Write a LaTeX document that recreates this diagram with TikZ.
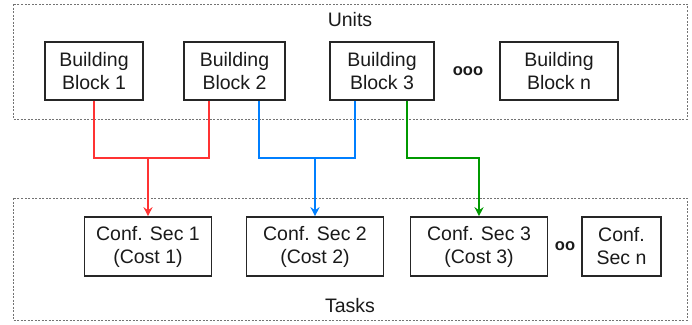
\documentclass[tikz,border=0pt]{standalone}
\usepackage{fontspec}
\setmainfont{Liberation Sans}
\usetikzlibrary{arrows.meta,calc}
\definecolor{cred}{HTML}{FF3333}
\definecolor{cblue}{HTML}{007FFF}
\definecolor{cgreen}{HTML}{009900}
\definecolor{ctext}{HTML}{1A1A1A}
\tikzset{
  blockbox/.style={draw=black!85, line width=1.6pt, minimum height=58pt, align=center,
    inner sep=0pt, text=ctext, font=\fontsize{19.5}{23}\selectfont},
  groupbox/.style={draw=black!55, dashed, dash pattern=on 2pt off 1.5pt, line width=0.7pt},
  lbl/.style={text=ctext, font=\fontsize{19.5}{23}\selectfont, inner sep=0pt},
  dotslbl/.style={text=ctext, font=\fontsize{16.5}{20}\selectfont\bfseries, inner sep=0pt},
  conn/.style={line width=1.8pt},
  tip/.style={-{Stealth[length=9pt,width=9pt,inset=3pt]}}
}
\begin{document}
\begin{tikzpicture}[x=1pt,y=-1pt]
\useasboundingbox (0,0) rectangle (692,324);
% group boxes
\draw[groupbox] (13,4) rectangle (687,119);
\draw[groupbox] (13,198) rectangle (687,320);
\node[lbl] (units) at (350,20) {Units};
\node[lbl] (tasks) at (350,306) {Tasks};
% building blocks
\node[blockbox, minimum width=98pt] (bb1) at (94,71) {Building\\Block 1};
\node[blockbox, minimum width=101pt] (bb2) at (234.5,71) {Building\\Block 2};
\node[blockbox, minimum width=104pt] (bb3) at (382,71) {Building\\Block 3};
\node[blockbox, minimum width=118pt] (bbn) at (559,71) {Building\\Block n};
\node[dotslbl] (dots1) at (468,71) {ooo};
% config sections
\node[blockbox, minimum width=127pt, minimum height=59pt] (cs1) at (148,246.5) {Conf. Sec 1\\(Cost 1)};
\node[blockbox, minimum width=137pt, minimum height=59pt] (cs2) at (315,246.5) {Conf. Sec 2\\(Cost 2)};
\node[blockbox, minimum width=137pt, minimum height=59pt] (cs3) at (479,246.5) {Conf. Sec 3\\(Cost 3)};
\node[blockbox, minimum width=79pt, minimum height=59pt] (csn) at (621.5,246.5) {Conf.\\Sec n};
\node[dotslbl] (dots2) at (565,246) {oo};
% junctions
\coordinate (jr) at (cs1.north |- 0,158);
\coordinate (jb) at (cs2.north |- 0,158);
\coordinate (jg) at (cs3.north |- 0,158);
% red
\draw[conn, cred] (bb1.south) |- (jr) -| ($(bb2.south west)+(26,0)$);
\draw[conn, cred] (jr) -- ($(cs1.north)+(0,-6)$);
\draw[cred, tip, line width=1.8pt] (jr) -- (cs1.north);
% blue
\draw[conn, cblue] ($(bb2.south west)+(76,0)$) |- (jb) -| ($(bb3.south west)+(26,0)$);
\draw[conn, cblue] (jb) -- ($(cs2.north)+(0,-6)$);
\draw[cblue, tip, line width=1.8pt] (jb) -- (cs2.north);
% green
\draw[conn, cgreen] ($(bb3.south west)+(78,0)$) |- (jg) -- ($(cs3.north)+(0,-6)$);
\draw[cgreen, tip, line width=1.8pt] (jg) -- (cs3.north);
\end{tikzpicture}
\end{document}
